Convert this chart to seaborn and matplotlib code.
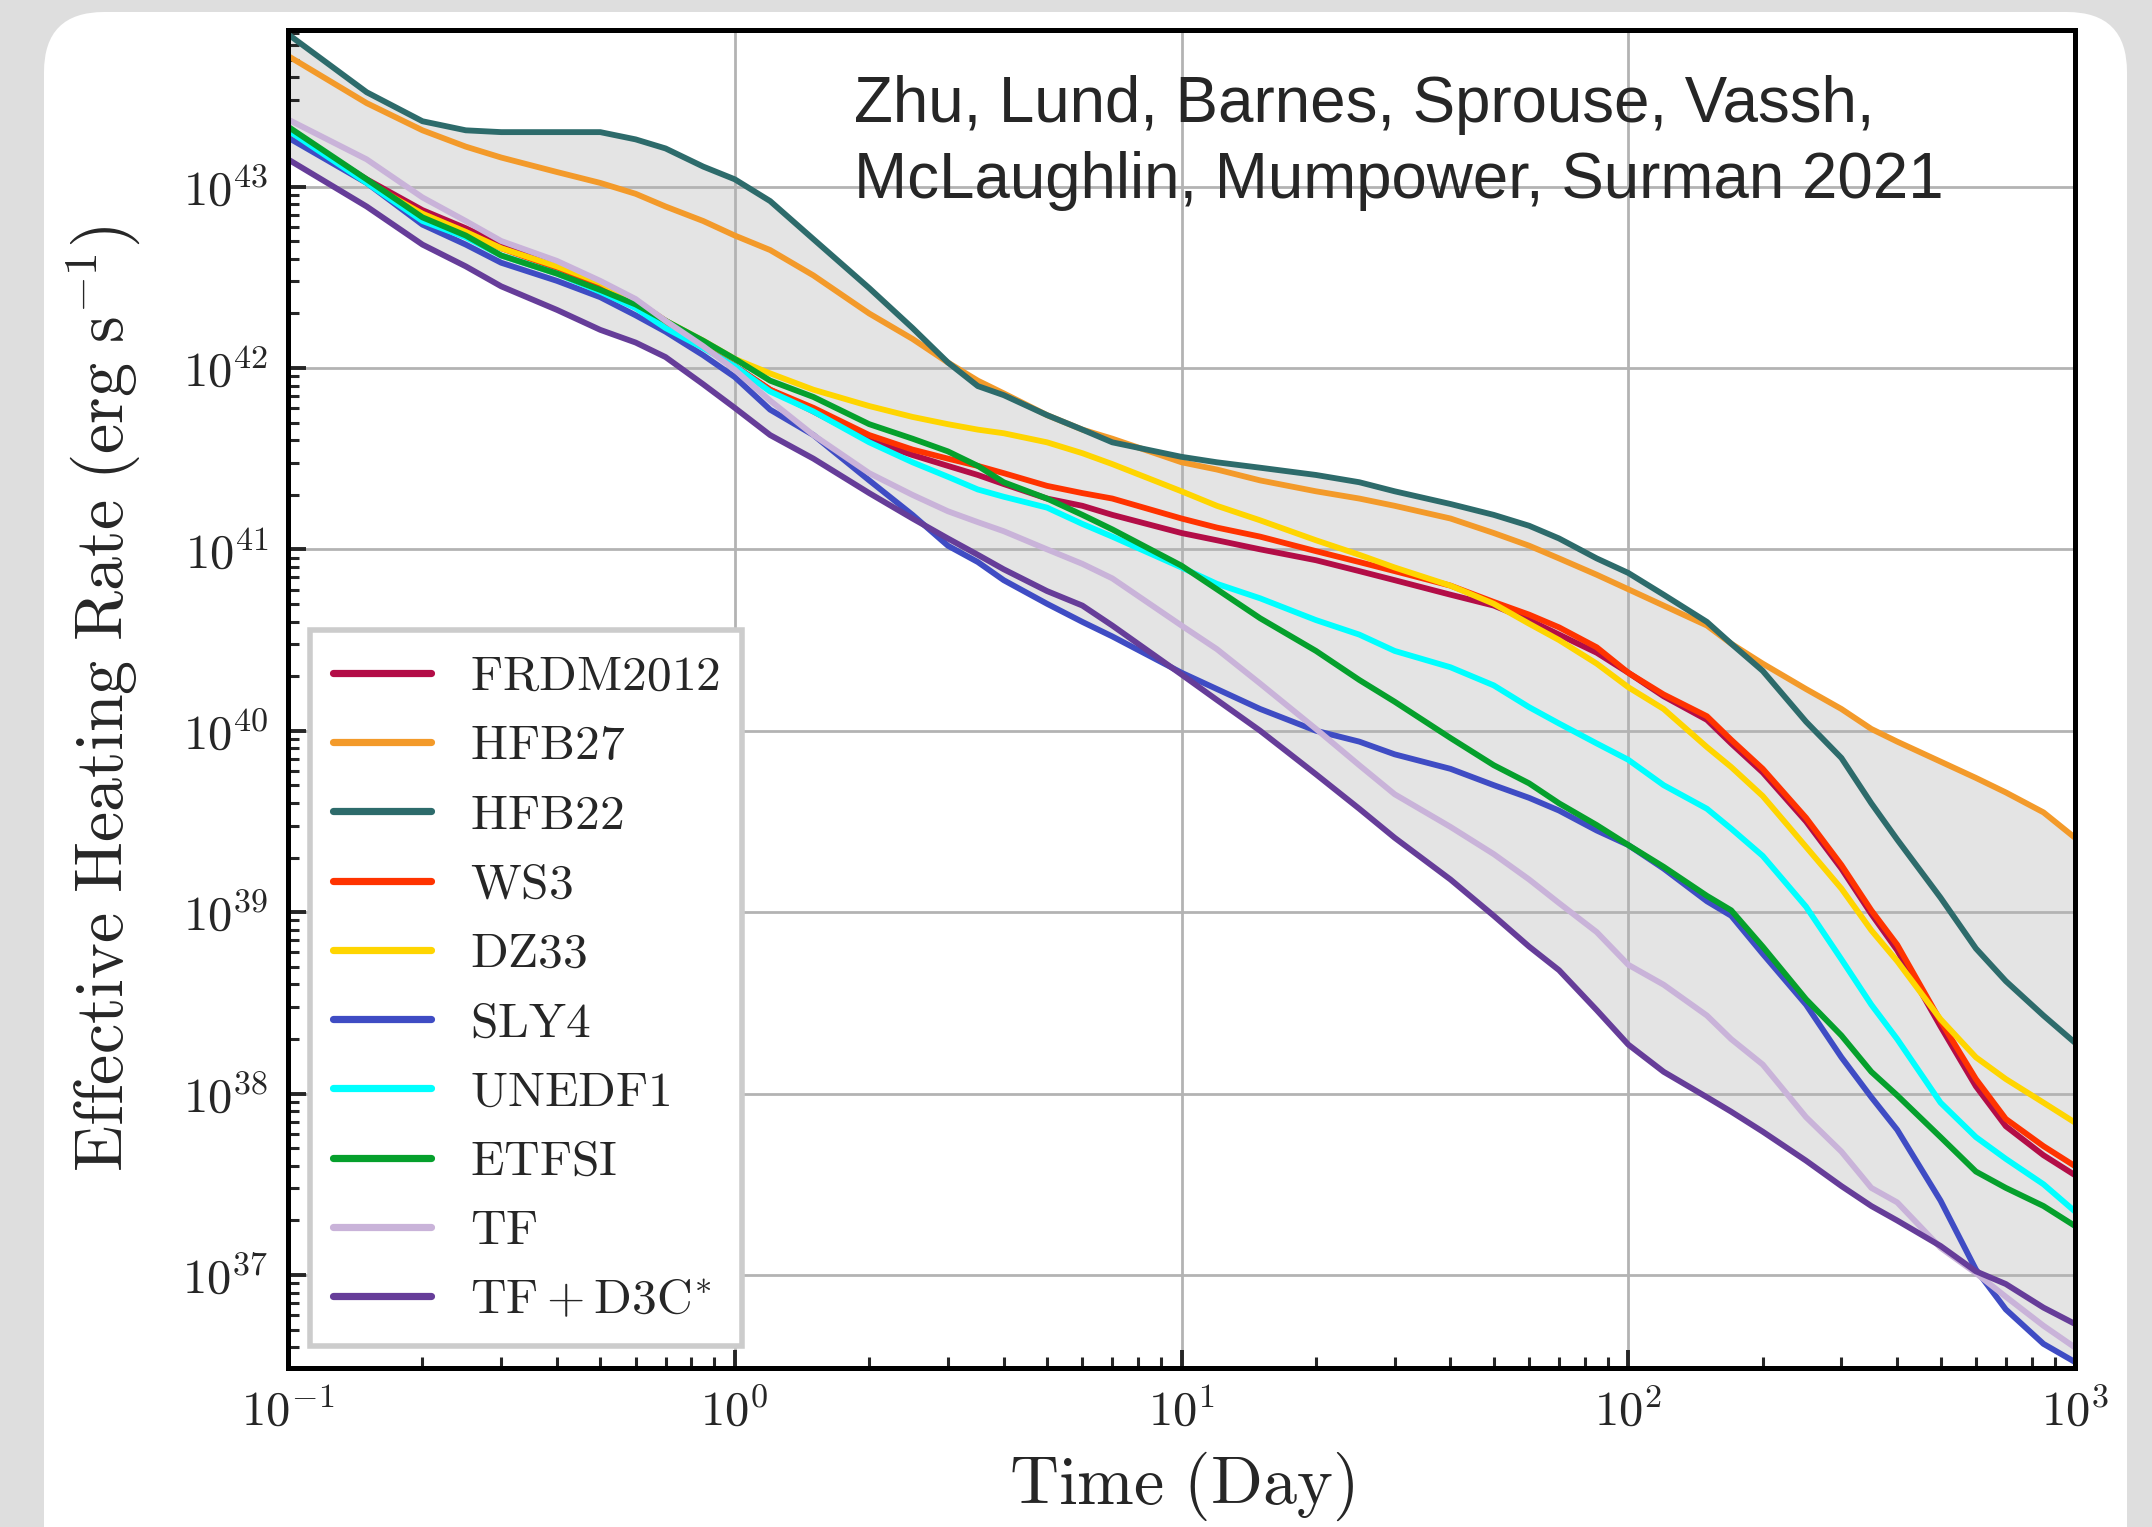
import numpy as np
import pandas as pd
import matplotlib
matplotlib.use("Agg")
import matplotlib.pyplot as plt
import seaborn as sns
from matplotlib.patches import FancyBboxPatch
from matplotlib.transforms import IdentityTransform
from matplotlib.ticker import FuncFormatter, LogLocator, NullFormatter

# ---------------- data (log10 of heating rate, erg/s) ----------------
time_days = [0.1, 0.15, 0.2, 0.25, 0.3, 0.4, 0.5, 0.6, 0.7, 0.85,
             1, 1.2, 1.5, 2, 2.5, 3, 3.5, 4, 5, 6,
             7, 10, 12, 15, 20, 25, 30, 40, 50, 60,
             70, 85, 100, 120, 150, 170, 200, 250, 300, 350,
             400, 500, 600, 700, 850, 1000]

frdm2012 = [43.31, 43.04, 42.87, 42.77, 42.68, 42.57, 42.47, 42.37, 42.26, 42.13,
            42.01, 41.88, 41.76, 41.60, 41.52, 41.46, 41.41, 41.36, 41.28, 41.24,
            41.19, 41.09, 41.05, 41.00, 40.94, 40.88, 40.83, 40.75, 40.69, 40.61,
            40.53, 40.43, 40.32, 40.19, 40.06, 39.93, 39.77, 39.50, 39.24, 38.99,
            38.79, 38.37, 38.04, 37.82, 37.66, 37.55]
hfb27 = [43.72, 43.46, 43.31, 43.22, 43.16, 43.08, 43.02, 42.96, 42.89, 42.81,
         42.73, 42.65, 42.51, 42.30, 42.16, 42.03, 41.93, 41.86, 41.74, 41.66,
         41.61, 41.48, 41.44, 41.38, 41.32, 41.28, 41.24, 41.17, 41.09, 41.02,
         40.95, 40.86, 40.78, 40.69, 40.58, 40.48, 40.37, 40.23, 40.12, 40.01,
         39.94, 39.83, 39.74, 39.66, 39.55, 39.41]
hfb22 = [43.84, 43.52, 43.36, 43.31, 43.30, 43.30, 43.30, 43.26, 43.21, 43.11,
         43.04, 42.92, 42.71, 42.44, 42.22, 42.03, 41.90, 41.85, 41.74, 41.66,
         41.59, 41.51, 41.48, 41.45, 41.41, 41.37, 41.32, 41.25, 41.19, 41.13,
         41.06, 40.95, 40.87, 40.75, 40.60, 40.48, 40.33, 40.05, 39.85, 39.60,
         39.40, 39.08, 38.80, 38.62, 38.43, 38.28]
ws3 = [43.31, 43.03, 42.85, 42.75, 42.66, 42.55, 42.45, 42.36, 42.24, 42.13,
       42.01, 41.88, 41.78, 41.63, 41.55, 41.50, 41.46, 41.42, 41.35, 41.31,
       41.28, 41.17, 41.12, 41.07, 40.99, 40.93, 40.88, 40.80, 40.71, 40.64,
       40.57, 40.46, 40.32, 40.20, 40.08, 39.95, 39.79, 39.52, 39.26, 39.01,
       38.82, 38.40, 38.08, 37.86, 37.71, 37.60]
dz33 = [43.29, 43.02, 42.85, 42.75, 42.66, 42.56, 42.47, 42.37, 42.26, 42.15,
        42.05, 41.97, 41.88, 41.79, 41.73, 41.69, 41.66, 41.64, 41.59, 41.53,
        41.47, 41.32, 41.24, 41.16, 41.05, 40.97, 40.90, 40.80, 40.70, 40.59,
        40.50, 40.37, 40.24, 40.12, 39.91, 39.80, 39.64, 39.36, 39.13, 38.90,
        38.73, 38.41, 38.20, 38.08, 37.95, 37.84]
sly4 = [43.27, 43.02, 42.79, 42.68, 42.58, 42.48, 42.39, 42.29, 42.20, 42.07,
        41.95, 41.77, 41.63, 41.38, 41.19, 41.02, 40.93, 40.83, 40.70, 40.60,
        40.52, 40.32, 40.23, 40.12, 40.00, 39.94, 39.87, 39.79, 39.70, 39.63,
        39.56, 39.45, 39.37, 39.24, 39.06, 38.98, 38.77, 38.49, 38.20, 37.98,
        37.80, 37.41, 37.03, 36.81, 36.62, 36.52]
unedf1 = [43.31, 43.02, 42.81, 42.72, 42.62, 42.52, 42.42, 42.33, 42.22, 42.11,
          42.01, 41.87, 41.76, 41.59, 41.48, 41.40, 41.33, 41.29, 41.23, 41.14,
          41.07, 40.90, 40.81, 40.73, 40.61, 40.53, 40.44, 40.35, 40.25, 40.13,
          40.04, 39.93, 39.84, 39.70, 39.57, 39.46, 39.31, 39.03, 38.74, 38.49,
          38.30, 37.95, 37.76, 37.64, 37.50, 37.35]
etfsi = [43.33, 43.04, 42.83, 42.73, 42.62, 42.52, 42.43, 42.35, 42.26, 42.15,
         42.05, 41.93, 41.84, 41.69, 41.61, 41.54, 41.46, 41.37, 41.28, 41.19,
         41.11, 40.91, 40.78, 40.62, 40.44, 40.28, 40.16, 39.96, 39.81, 39.71,
         39.60, 39.48, 39.37, 39.25, 39.09, 39.01, 38.81, 38.52, 38.32, 38.12,
         37.99, 37.76, 37.57, 37.48, 37.38, 37.27]
tf = [43.37, 43.15, 42.94, 42.81, 42.70, 42.59, 42.48, 42.38, 42.26, 42.12,
      41.99, 41.82, 41.63, 41.42, 41.30, 41.21, 41.15, 41.10, 41.00, 40.92,
      40.84, 40.58, 40.45, 40.26, 40.01, 39.81, 39.65, 39.47, 39.32, 39.18,
      39.05, 38.89, 38.71, 38.60, 38.43, 38.30, 38.16, 37.87, 37.68, 37.48,
      37.40, 37.15, 37.01, 36.88, 36.72, 36.60]
tf_d3c = [43.15, 42.89, 42.68, 42.56, 42.45, 42.32, 42.21, 42.14, 42.06, 41.91,
          41.78, 41.63, 41.50, 41.31, 41.17, 41.06, 40.97, 40.89, 40.77, 40.69,
          40.58, 40.31, 40.17, 40.00, 39.76, 39.57, 39.41, 39.18, 38.98, 38.81,
          38.68, 38.46, 38.27, 38.12, 37.98, 37.90, 37.79, 37.63, 37.49, 37.38,
          37.30, 37.16, 37.02, 36.95, 36.82, 36.73]

model_names = ["FRDM2012", "HFB27", "HFB22", "WS3", "DZ33", "SLY4", "UNEDF1", "ETFSI", "TF", "TF+D3C*"]
legend_labels = [r"$\mathrm{FRDM2012}$", r"$\mathrm{HFB27}$", r"$\mathrm{HFB22}$", r"$\mathrm{WS3}$",
                 r"$\mathrm{DZ33}$", r"$\mathrm{SLY4}$", r"$\mathrm{UNEDF1}$", r"$\mathrm{ETFSI}$",
                 r"$\mathrm{TF}$", r"$\mathrm{TF}+\mathrm{D3C}^{*}$"]
model_colors = ["#b30d47", "#f39a2a", "#2d6b6b", "#ff3300", "#ffd500",
                "#3f4cc4", "#00ffff", "#05a02c", "#c9b3d9", "#663d99"]
series = [frdm2012, hfb27, hfb22, ws3, dz33, sly4, unedf1, etfsi, tf, tf_d3c]

rows = []
for name, vals in zip(model_names, series):
    for t, v in zip(time_days, vals):
        rows.append({"time": t, "rate": 10.0 ** v, "model": name})
df = pd.DataFrame(rows)

# ---------------- style ----------------
sns.set_style("ticks")
plt.rcParams["mathtext.fontset"] = "cm"
plt.rcParams["font.family"] = ["DejaVu Sans"]

W, H, DPI = 2152, 1527, 200
fig = plt.figure(figsize=(W / DPI, H / DPI), dpi=DPI)
fig.patch.set_facecolor("#dedede")
card = FancyBboxPatch((44, -80), 2083, 1527 - 12 + 80,
                      boxstyle="round,pad=0,rounding_size=60",
                      transform=IdentityTransform(), facecolor="white",
                      edgecolor="none", zorder=-10)
fig.patches.append(card)

ax = fig.add_axes([288 / W, 1 - 1368 / H, (2075 - 288) / W, (1368 - 30) / H])
ax.set_zorder(1)
ax.set_xscale("log")
ax.set_yscale("log")

# shaded envelope between the lowest and highest model
env = df.pivot(index="time", columns="model", values="rate")
ax.fill_between(env.index, env.min(axis=1), env.max(axis=1),
                color="#e4e4e4", linewidth=0, zorder=0.2)

sns.lineplot(data=df, x="time", y="rate", hue="model", hue_order=model_names,
             palette=dict(zip(model_names, model_colors)), linewidth=2.1,
             estimator=None, sort=True, ax=ax, legend=False, zorder=2)

ax.set_xlim(0.1, 1000)
ax.set_ylim(10 ** 36.487, 10 ** 43.863)

ax.set_axisbelow(True)
ax.grid(True, which="major", color="#b3b3b3", linewidth=1.0, zorder=0.5)

for sp in ax.spines.values():
    sp.set_linewidth(1.8)
    sp.set_color("black")

fmt = FuncFormatter(lambda v, p: r"$10^{%d}$" % int(round(np.log10(v))))
ax.xaxis.set_major_locator(LogLocator(base=10, numticks=20))
ax.yaxis.set_major_locator(LogLocator(base=10, numticks=20))
ax.xaxis.set_minor_locator(LogLocator(base=10, subs=np.arange(2, 10), numticks=100))
ax.yaxis.set_minor_locator(LogLocator(base=10, subs=np.arange(2, 10), numticks=100))
ax.xaxis.set_major_formatter(fmt)
ax.yaxis.set_major_formatter(fmt)
ax.xaxis.set_minor_formatter(NullFormatter())
ax.yaxis.set_minor_formatter(NullFormatter())
ax.tick_params(which="both", direction="in", top=False, right=False)
ax.tick_params(which="major", length=6.5, width=1.4, labelsize=17.5, pad=7)
ax.tick_params(which="minor", length=3.8, width=1.1)

ax.set_xlabel(r"$\mathrm{Time\ (Day)}$", fontsize=24.5, labelpad=5)
ax.set_ylabel(r"$\mathrm{Effective\ Heating\ Rate\ (erg\ s^{-1})}$", fontsize=24.5, labelpad=14)

handles = [plt.Line2D([], [], color=c, linewidth=2.6) for c in model_colors]
leg = ax.legend(handles, legend_labels, loc="lower left", fontsize=17.8,
                handlelength=2.0, handletextpad=0.78, labelspacing=0.43,
                borderpad=0.45, borderaxespad=0.45, frameon=True,
                fancybox=False, framealpha=1, edgecolor="#cccccc")
leg.get_frame().set_linewidth(2.0)

ax.text(0.3167, 0.966, "Zhu, Lund, Barnes, Sprouse, Vassh,\nMcLaughlin, Mumpower, Surman 2021",
        transform=ax.transAxes, ha="left", va="top", fontsize=22.9,
        family=["Liberation Sans", "DejaVu Sans"], linespacing=1.33, zorder=5)

fig.savefig("out.png", dpi=DPI, facecolor=fig.get_facecolor())
